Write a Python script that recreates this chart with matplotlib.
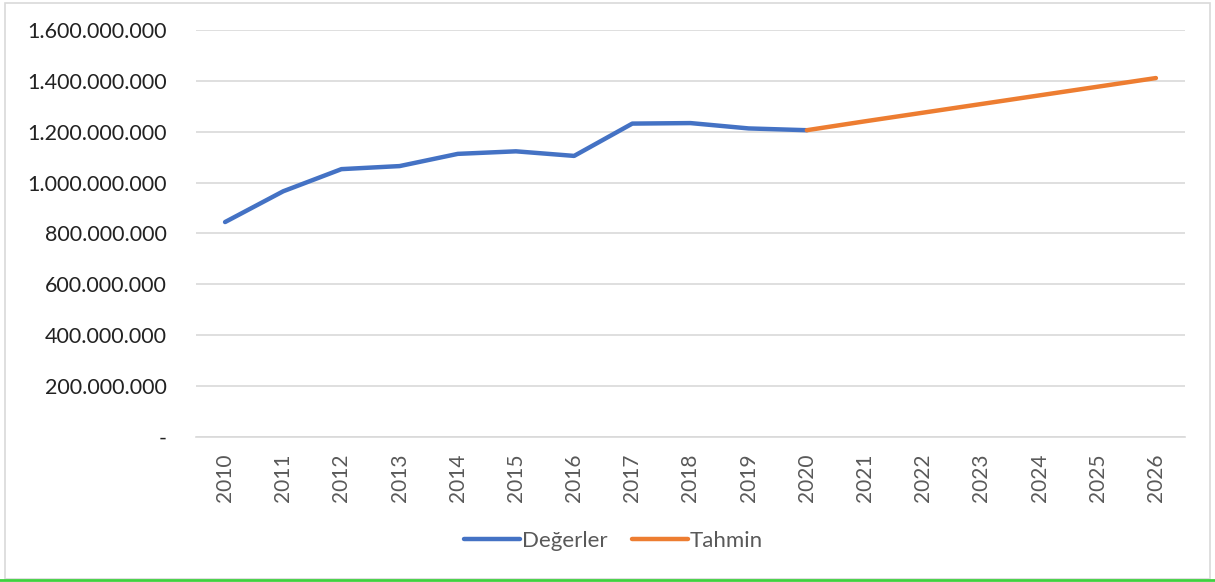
import matplotlib
matplotlib.use("Agg")
import matplotlib.pyplot as plt
from matplotlib.patches import Rectangle
from matplotlib.lines import Line2D
from matplotlib.ticker import FuncFormatter

years = [str(y) for y in range(2010, 2027)]
actual_years = years[:11]
actual = [845e6, 966e6, 1053e6, 1065e6, 1113e6, 1123e6, 1105e6,
          1232e6, 1234e6, 1213e6, 1206e6]
forecast_years = years[10:]
forecast = [1206e6, 1241e6, 1275e6, 1309e6, 1343e6, 1377e6, 1411e6]

plt.rcParams["font.family"] = ["Lato", "DejaVu Sans"]

fig = plt.figure(figsize=(12.15, 5.82), dpi=100)
ax = fig.add_axes([0.1613, 0.2491, 0.8140, 0.6994])

x_all = list(range(len(years)))
x_act = [years.index(y) for y in actual_years]
x_fc = [years.index(y) for y in forecast_years]

ax.plot(x_act, actual, color="#4472C4", lw=3.2, solid_capstyle="round",
        solid_joinstyle="round", label="Değerler", zorder=3)
ax.plot(x_fc, forecast, color="#ED7D31", lw=3.2, solid_capstyle="round",
        solid_joinstyle="round", label="Tahmin", zorder=3)

ax.set_xlim(-0.5, len(years) - 0.5)
ax.set_ylim(0, 1.6e9)
ax.set_yticks([i * 2e8 for i in range(9)])


def fmt(v, _):
    if v == 0:
        return "-"
    return f"{int(round(v)):,}".replace(",", ".")


ax.yaxis.set_major_formatter(FuncFormatter(fmt))
ax.set_xticks(x_all)
ax.set_xticklabels(years, rotation=90, fontsize=15, color="#595959")
ax.tick_params(axis="y", labelsize=15.5, labelcolor="#222222", length=0, pad=21)
ax.tick_params(axis="x", length=0, pad=12)

ax.grid(axis="y", color="#d9d9d9", lw=1.2)
ax.set_axisbelow(True)
for s in ["top", "right", "left"]:
    ax.spines[s].set_visible(False)
ax.spines["bottom"].set_color("#d9d9d9")
ax.spines["bottom"].set_linewidth(1.2)

leg = fig.legend(loc="center", bbox_to_anchor=(0.505, 0.07), ncol=2,
                 frameon=False, fontsize=16, handlelength=2.5,
                 handletextpad=0.1, columnspacing=1.1)
for t in leg.get_texts():
    t.set_color("#595959")

# chart frame and bottom green edge
fig.patches.append(Rectangle((0.004, 0.006), 0.992, 0.988, transform=fig.transFigure,
                             fill=False, edgecolor="#d9d9d9", lw=1.2))
fig.lines.append(Line2D([0, 1], [0.003, 0.003], transform=fig.transFigure,
                        color="#3fd13f", lw=2))

fig.savefig("out.png", dpi=100)
